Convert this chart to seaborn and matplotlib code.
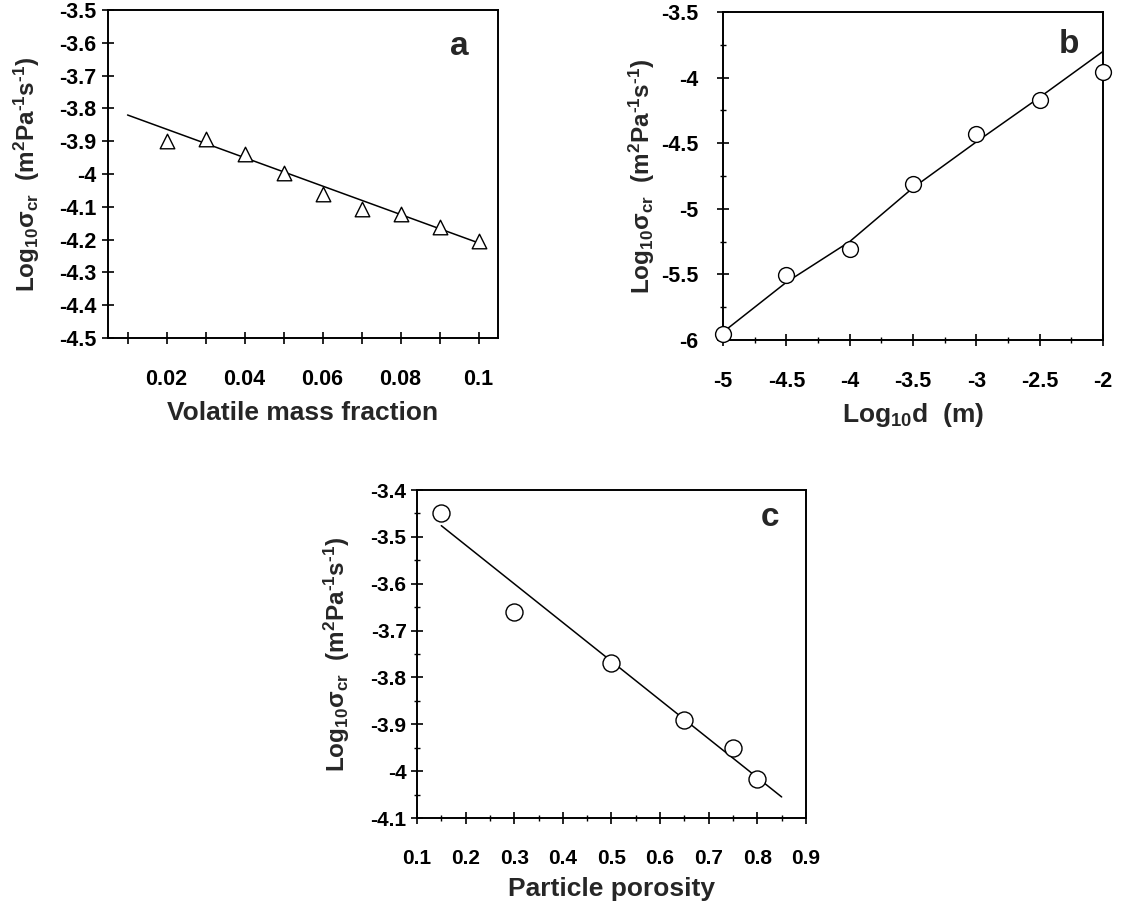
import numpy as np
import pandas as pd
import matplotlib
matplotlib.use("Agg")
import matplotlib.pyplot as plt
import seaborn as sns
from matplotlib.ticker import MultipleLocator

# ---------------- data ----------------
# panel a
vol_frac = [0.02, 0.03, 0.04, 0.05, 0.06, 0.07, 0.08, 0.09, 0.10]
sigma_a = [-3.90, -3.893, -3.94, -3.996, -4.061, -4.107, -4.122, -4.163, -4.203]
fit_a_x = [0.01, 0.10]
fit_a_y = [-3.82, -4.21]

# panel b
log_d = [-5.0, -4.5, -4.0, -3.5, -3.0, -2.5, -2.0]
sigma_b = [-5.954, -5.505, -5.306, -4.813, -4.432, -4.171, -3.955]
fit_b_y = [-5.94, -5.56, -5.25, -4.84, -4.49, -4.15, -3.80]

# panel c
porosity = [0.15, 0.30, 0.50, 0.65, 0.75, 0.80]
sigma_c = [-3.45, -3.661, -3.770, -3.890, -3.951, -4.017]
fit_c_x = [0.15, 0.85]
fit_c_y = [-3.476, -4.055]

xticks_a = [0.01, 0.02, 0.03, 0.04, 0.05, 0.06, 0.07, 0.08, 0.09, 0.10]
xticklabels_a = ["", "0.02", "", "0.04", "", "0.06", "", "0.08", "", "0.1"]
yticks_a = [-3.5, -3.6, -3.7, -3.8, -3.9, -4.0, -4.1, -4.2, -4.3, -4.4, -4.5]
yticklabels_a = ["-3.5", "-3.6", "-3.7", "-3.8", "-3.9", "-4", "-4.1", "-4.2", "-4.3", "-4.4", "-4.5"]
xticks_b = [-5, -4.5, -4, -3.5, -3, -2.5, -2]
xticklabels_b = ["-5", "-4.5", "-4", "-3.5", "-3", "-2.5", "-2"]
yticks_b = [-6, -5.5, -5, -4.5, -4, -3.5]
yticklabels_b = ["-6", "-5.5", "-5", "-4.5", "-4", "-3.5"]
xticks_c = [0.1, 0.2, 0.3, 0.4, 0.5, 0.6, 0.7, 0.8, 0.9]
xticklabels_c = ["0.1", "0.2", "0.3", "0.4", "0.5", "0.6", "0.7", "0.8", "0.9"]
yticks_c = [-4.1, -4.0, -3.9, -3.8, -3.7, -3.6, -3.5, -3.4]
yticklabels_c = ["-4.1", "-4", "-3.9", "-3.8", "-3.7", "-3.6", "-3.5", "-3.4"]

ylabel = r"Log$_{10}$$\sigma$$_{cr}$  (m$^2$Pa$^{\text{-}1}$s$^{\text{-}1}$)"

# ---------------- style ----------------
sns.set_theme(style="ticks")
plt.rcParams["font.family"] = ["Liberation Sans", "DejaVu Sans"]
plt.rcParams["font.weight"] = "bold"
plt.rcParams["mathtext.fontset"] = "custom"
plt.rcParams["mathtext.rm"] = "Liberation Sans:bold"
plt.rcParams["mathtext.bf"] = "Liberation Sans:bold"
plt.rcParams["mathtext.it"] = "Liberation Serif"
plt.rcParams["mathtext.default"] = "bf"

fig = plt.figure(figsize=(11.35, 9.05), dpi=100)
ax_a = fig.add_axes([0.0952, 0.6265, 0.3436, 0.3624])
ax_b = fig.add_axes([0.6370, 0.6243, 0.3348, 0.3624])
ax_c = fig.add_axes([0.3674, 0.0961, 0.3427, 0.3624])

XLABEL_FS = 19
YLABEL_FS = 17.5
PANEL_FS = 24

def style(ax, tick_fs):
    for s in ax.spines.values():
        s.set_linewidth(1.4)
        s.set_color("black")
        s.set_visible(True)
    ax.tick_params(axis="both", which="major", direction="inout", length=9,
                   width=1.2, colors="black", labelsize=tick_fs)
    ax.tick_params(axis="both", which="minor", direction="inout", length=5,
                   width=1.0, colors="black")
    ax.tick_params(axis="x", which="major", pad=18)
    for lab in ax.get_xticklabels() + ax.get_yticklabels():
        lab.set_fontweight("bold")

# ---- panel a ----
sns.lineplot(x=fit_a_x, y=fit_a_y, ax=ax_a, color="black", linewidth=1.1)
sns.scatterplot(x=vol_frac, y=sigma_a, ax=ax_a, marker="^", s=110,
                facecolor="white", edgecolor="black", linewidth=1.0, zorder=3)
ax_a.set_xlim(0.005, 0.105)
ax_a.set_ylim(-4.5, -3.5)
ax_a.set_xticks(xticks_a)
ax_a.set_xticklabels(xticklabels_a)
ax_a.set_yticks(yticks_a)
ax_a.set_yticklabels(yticklabels_a)
ax_a.set_xlabel("Volatile mass fraction", fontsize=XLABEL_FS, fontweight="bold", labelpad=8)
ax_a.set_ylabel(ylabel, fontsize=YLABEL_FS, fontweight="bold", labelpad=12)
style(ax_a, 15.5)
ax_a.tick_params(axis="y", which="major", pad=4)
ax_a.text(0.9, 0.89, "a", transform=ax_a.transAxes, fontsize=PANEL_FS,
          fontweight="bold", ha="center", va="center")

# ---- panel b ----
sns.lineplot(x=log_d, y=fit_b_y, ax=ax_b, color="black", linewidth=1.1)
sns.scatterplot(x=log_d, y=sigma_b, ax=ax_b, marker="o", s=130,
                facecolor="white", edgecolor="black", linewidth=1.0, zorder=3,
                clip_on=False)
ax_b.set_xlim(-5, -2)
ax_b.set_ylim(-6, -3.5)
ax_b.set_xticks(xticks_b)
ax_b.set_xticklabels(xticklabels_b)
ax_b.set_yticks(yticks_b)
ax_b.set_yticklabels(yticklabels_b)
ax_b.xaxis.set_minor_locator(MultipleLocator(0.25))
ax_b.yaxis.set_minor_locator(MultipleLocator(0.25))
ax_b.set_xlabel(r"Log$_{10}$d  (m)", fontsize=XLABEL_FS, fontweight="bold", labelpad=6)
ax_b.set_ylabel(ylabel, fontsize=YLABEL_FS, fontweight="bold", labelpad=3)
style(ax_b, 15.5)
ax_b.tick_params(axis="y", which="major", pad=13)
ax_b.text(0.91, 0.90, "b", transform=ax_b.transAxes, fontsize=PANEL_FS,
          fontweight="bold", ha="center", va="center")

# ---- panel c ----
sns.lineplot(x=fit_c_x, y=fit_c_y, ax=ax_c, color="black", linewidth=1.1)
sns.scatterplot(x=porosity, y=sigma_c, ax=ax_c, marker="o", s=150,
                facecolor="white", edgecolor="black", linewidth=1.0, zorder=3)
ax_c.set_xlim(0.1, 0.9)
ax_c.set_ylim(-4.1, -3.4)
ax_c.set_xticks(xticks_c)
ax_c.set_xticklabels(xticklabels_c)
ax_c.set_yticks(yticks_c)
ax_c.set_yticklabels(yticklabels_c)
ax_c.xaxis.set_minor_locator(MultipleLocator(0.05))
ax_c.yaxis.set_minor_locator(MultipleLocator(0.05))
ax_c.set_xlabel("Particle porosity", fontsize=XLABEL_FS, fontweight="bold", labelpad=6)
ax_c.set_ylabel(ylabel, fontsize=YLABEL_FS, fontweight="bold", labelpad=13)
style(ax_c, 15)
ax_c.tick_params(axis="y", which="major", pad=3)
ax_c.text(0.907, 0.915, "c", transform=ax_c.transAxes, fontsize=PANEL_FS,
          fontweight="bold", ha="center", va="center")

fig.savefig("out.png", dpi=100, facecolor="white")
